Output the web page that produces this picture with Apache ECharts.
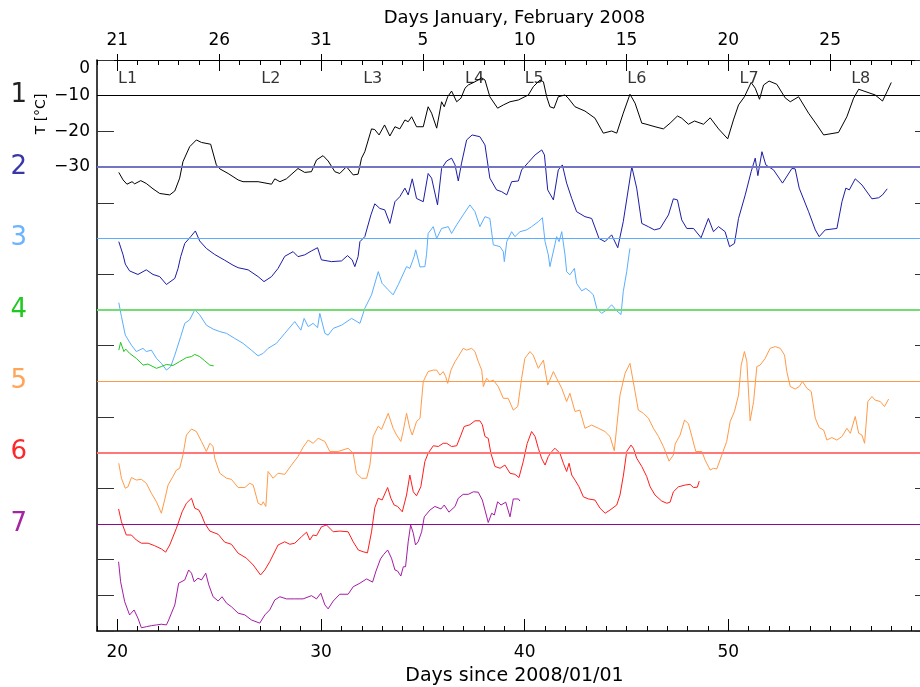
<!DOCTYPE html>
<html>
<head>
<meta charset="utf-8">
<title>Temperature traces L1-L8, January-February 2008</title>
<script src="https://cdn.jsdelivr.net/npm/echarts@6/dist/echarts.min.js"></script>
<style>
  html, body { margin: 0; padding: 0; background: #fff; }
  #chart { width: 920px; height: 687px; }
</style>
</head>
<body>
<div id="chart"></div>
<script>
// [day since 2008/01/01, plotted T] - each trace sits 20 degrees below the previous one
const trace1 = [[20.07,-31.5],[20.28,-33.6],[20.47,-34.8],[20.72,-34.1],[20.85,-34.7],[21.15,-33.8],[21.42,-34.6],[21.75,-36.1],[22.08,-37.4],[22.57,-37.8],[22.82,-36.7],[23.06,-33.1],[23.22,-28.5],[23.55,-24.3],[23.88,-22.4],[24.13,-23.1],[24.58,-23.6],[24.86,-29.4],[25.03,-30.5],[25.44,-31.8],[25.93,-33.6],[26.17,-34.1],[26.91,-34.1],[27.57,-34.8],[27.73,-33.3],[27.98,-34.1],[28.3,-33.3],[28.87,-30.4],[29.2,-31.5],[29.53,-31.3],[29.78,-28.0],[30.1,-26.8],[30.35,-28.3],[30.68,-31.3],[30.92,-31.8],[31.25,-29.9],[31.58,-32.2],[31.82,-32.0],[31.99,-27.5],[32.15,-25.7],[32.48,-19.3],[32.64,-19.5],[32.85,-21.0],[33.12,-18.2],[33.38,-21.3],[33.63,-18.7],[33.87,-19.3],[34.12,-16.8],[34.28,-17.3],[34.45,-15.9],[34.69,-18.7],[35.02,-18.7],[35.26,-13.1],[35.43,-14.9],[35.68,-19.1],[35.92,-11.7],[36.05,-13.1],[36.22,-10.3],[36.41,-8.7],[36.66,-11.7],[36.87,-10.7],[37.07,-7.9],[37.23,-7.0],[37.56,-6.1],[37.89,-5.0],[38.05,-5.6],[38.29,-10.3],[38.67,-13.5],[38.95,-12.6],[39.28,-11.7],[39.69,-11.2],[40.18,-9.8],[40.42,-7.5],[40.75,-5.6],[40.92,-6.1],[41.08,-10.3],[41.24,-13.1],[41.44,-13.5],[41.65,-10.3],[41.98,-9.8],[42.14,-10.7],[42.47,-13.1],[42.96,-14.3],[43.45,-16.3],[43.86,-20.5],[44.27,-19.9],[44.52,-20.5],[44.84,-14.9],[45.17,-9.6],[45.42,-12.1],[45.75,-17.7],[45.91,-17.9],[46.4,-18.7],[46.81,-19.3],[47.14,-17.7],[47.5,-15.7],[47.71,-16.3],[48.04,-18.0],[48.34,-17.1],[48.78,-18.0],[49.11,-16.2],[49.52,-19.3],[49.97,-22.1],[50.25,-16.8],[50.5,-12.6],[50.79,-10.3],[51.12,-6.3],[51.32,-7.9],[51.53,-11.0],[51.73,-7.0],[52.0,-5.9],[52.38,-6.8],[52.79,-10.6],[53.04,-11.7],[53.45,-10.3],[53.94,-14.9],[54.35,-18.2],[54.68,-21.0],[55.41,-20.3],[55.82,-15.9],[56.15,-10.7],[56.4,-8.2],[57.21,-9.8],[57.57,-11.5],[57.79,-8.9],[58.0,-6.3]];

const trace2 = [[20.07,-50.9],[20.28,-54.6],[20.39,-57.2],[20.6,-59.1],[21.01,-60.1],[21.42,-58.8],[21.75,-60.1],[22.08,-60.7],[22.41,-62.9],[22.82,-61.2],[22.98,-58.4],[23.11,-55.1],[23.31,-51.4],[23.6,-49.5],[23.83,-47.9],[24.04,-50.7],[24.37,-52.8],[24.78,-54.5],[25.27,-56.1],[25.68,-57.5],[25.93,-58.2],[26.42,-58.8],[26.91,-60.7],[27.2,-62.1],[27.57,-60.7],[27.89,-58.4],[28.22,-55.0],[28.63,-53.7],[28.87,-55.1],[29.2,-54.6],[29.53,-53.5],[29.83,-52.6],[30.02,-56.0],[30.52,-56.5],[31.01,-56.3],[31.3,-54.8],[31.53,-56.0],[31.66,-57.9],[31.82,-55.1],[31.91,-50.9],[32.15,-49.5],[32.45,-43.4],[32.64,-40.3],[32.89,-41.6],[33.13,-42.0],[33.38,-45.8],[33.63,-39.7],[33.87,-38.3],[34.12,-35.9],[34.28,-37.8],[34.48,-33.3],[34.69,-38.8],[35.02,-39.7],[35.26,-31.8],[35.43,-33.1],[35.72,-40.6],[35.92,-30.4],[36.17,-28.3],[36.41,-27.5],[36.58,-29.4],[36.74,-33.9],[36.9,-28.9],[37.15,-22.4],[37.42,-21.0],[37.8,-21.5],[38.05,-23.8],[38.29,-33.1],[38.62,-36.4],[38.87,-36.9],[39.12,-37.8],[39.36,-34.1],[39.69,-33.9],[39.85,-30.8],[40.18,-28.7],[40.51,-26.6],[40.84,-25.2],[40.97,-26.6],[41.13,-36.4],[41.41,-39.2],[41.65,-30.8],[41.85,-29.4],[41.93,-29.2],[42.06,-34.5],[42.31,-38.8],[42.55,-42.5],[42.96,-43.9],[43.29,-44.4],[43.65,-50.0],[43.94,-50.9],[44.27,-49.0],[44.57,-52.6],[44.84,-45.3],[45.26,-29.9],[45.5,-35.9],[45.75,-45.8],[46.07,-46.7],[46.37,-47.6],[46.65,-47.2],[47.06,-43.4],[47.3,-38.9],[47.5,-39.2],[47.71,-44.8],[47.96,-47.2],[48.29,-47.2],[48.66,-49.8],[49.02,-44.4],[49.27,-48.1],[49.52,-46.7],[49.84,-48.1],[50.06,-52.3],[50.3,-51.4],[50.5,-44.4],[50.83,-37.8],[51.12,-31.3],[51.32,-27.5],[51.45,-32.4],[51.65,-25.7],[51.84,-29.4],[52.22,-30.8],[52.66,-34.5],[53.12,-30.4],[53.28,-30.5],[53.48,-35.9],[53.94,-42.5],[54.27,-47.6],[54.46,-49.5],[54.76,-47.6],[55.33,-47.2],[55.58,-39.7],[55.77,-35.9],[55.94,-36.4],[56.23,-33.3],[56.56,-35.0],[57.05,-38.9],[57.38,-38.6],[57.57,-37.8],[57.8,-36.1]];

const trace3 = [[20.07,-68.0],[20.2,-71.9],[20.39,-77.1],[20.69,-79.9],[20.93,-81.7],[21.26,-80.8],[21.42,-81.7],[21.67,-81.3],[21.92,-83.6],[22.16,-85.0],[22.41,-86.9],[22.62,-85.9],[22.82,-82.7],[23.11,-77.5],[23.31,-73.8],[23.55,-72.8],[23.8,-70.0],[24.04,-71.4],[24.37,-74.3],[24.7,-75.4],[25.03,-76.1],[25.36,-76.6],[25.76,-78.0],[26.17,-79.4],[26.58,-81.3],[26.91,-82.9],[27.16,-82.2],[27.4,-80.8],[27.81,-79.4],[28.22,-76.6],[28.71,-73.3],[29.01,-75.7],[29.17,-72.4],[29.37,-74.7],[29.61,-73.8],[29.83,-75.0],[29.94,-71.0],[30.19,-76.6],[30.35,-77.1],[30.6,-75.2],[31.01,-74.3],[31.5,-72.4],[31.91,-73.8],[32.15,-69.6],[32.48,-65.8],[32.81,-59.3],[33.0,-62.6],[33.3,-64.4],[33.54,-65.8],[33.79,-63.0],[34.2,-57.9],[34.36,-58.4],[34.57,-55.1],[34.65,-53.2],[34.86,-58.0],[35.1,-57.9],[35.18,-54.6],[35.26,-48.6],[35.51,-46.7],[35.68,-50.0],[35.92,-47.2],[36.25,-46.7],[36.41,-48.6],[36.66,-46.2],[36.98,-43.4],[37.31,-40.6],[37.56,-42.5],[37.8,-46.7],[38.05,-43.9],[38.29,-44.4],[38.46,-51.8],[38.79,-52.3],[38.95,-53.7],[39.0,-56.5],[39.12,-50.9],[39.36,-48.1],[39.52,-49.5],[39.77,-48.1],[40.1,-47.6],[40.34,-46.7],[40.67,-45.3],[40.87,-44.2],[41.0,-50.9],[41.16,-54.6],[41.24,-57.9],[41.57,-49.5],[41.69,-50.9],[41.82,-48.1],[41.98,-54.6],[42.06,-59.3],[42.22,-60.2],[42.44,-58.4],[42.55,-62.6],[42.8,-64.7],[43.0,-64.0],[43.21,-64.9],[43.37,-65.8],[43.54,-69.6],[43.78,-71.0],[44.03,-70.0],[44.27,-68.6],[44.52,-70.3],[44.73,-71.3],[44.84,-64.9],[45.01,-59.3],[45.12,-54.6],[45.17,-52.8]];

const trace4 = [[20.07,-81.3],[20.16,-79.1],[20.25,-79.4],[20.32,-81.7],[20.41,-81.0],[20.6,-82.2],[20.93,-83.6],[21.26,-85.5],[21.5,-85.2],[21.92,-86.4],[22.16,-85.9],[22.41,-85.3],[22.73,-85.6],[23.06,-84.5],[23.39,-83.4],[23.64,-83.1],[23.8,-82.5],[24.04,-83.1],[24.29,-84.3],[24.54,-85.5],[24.73,-85.7]];

const trace5 = [[20.07,-113.0],[20.2,-117.2],[20.39,-120.0],[20.52,-119.6],[20.69,-117.0],[20.93,-117.7],[21.18,-117.5],[21.42,-118.6],[21.67,-121.4],[21.92,-123.8],[22.16,-127.0],[22.32,-123.3],[22.49,-119.1],[22.73,-116.7],[22.9,-114.9],[23.06,-114.4],[23.22,-110.7],[23.39,-105.1],[23.64,-103.4],[23.88,-104.1],[24.13,-106.9],[24.37,-109.7],[24.54,-107.4],[24.7,-108.3],[24.78,-111.6],[25.03,-115.8],[25.36,-117.2],[25.6,-117.5],[25.93,-119.8],[26.26,-119.8],[26.5,-118.6],[26.67,-119.1],[26.91,-124.2],[27.08,-124.7],[27.16,-123.8],[27.29,-125.1],[27.4,-115.3],[27.65,-117.2],[27.89,-115.8],[28.22,-116.1],[28.55,-113.5],[28.87,-111.1],[29.12,-108.5],[29.37,-106.5],[29.61,-107.4],[29.86,-106.0],[30.19,-106.9],[30.43,-109.7],[30.84,-109.7],[31.33,-108.8],[31.58,-110.2],[31.74,-115.8],[31.99,-117.2],[32.24,-117.2],[32.4,-113.5],[32.56,-105.5],[32.81,-102.6],[32.97,-103.5],[33.3,-99.0],[33.54,-103.2],[33.71,-105.1],[33.92,-106.9],[34.03,-104.1],[34.2,-99.0],[34.36,-103.2],[34.48,-105.1],[34.69,-101.3],[34.86,-100.4],[35.02,-90.1],[35.26,-87.3],[35.51,-86.9],[35.68,-86.9],[35.84,-88.3],[36.0,-87.3],[36.12,-88.7],[36.22,-90.6],[36.38,-86.9],[36.58,-84.5],[36.74,-83.1],[36.98,-80.8],[37.15,-81.3],[37.39,-80.8],[37.56,-81.7],[37.72,-84.5],[37.89,-86.9],[37.97,-91.5],[38.13,-89.2],[38.29,-90.1],[38.46,-89.7],[38.7,-91.5],[38.95,-94.8],[39.19,-94.8],[39.44,-98.1],[39.66,-97.1],[39.85,-89.2],[40.01,-83.6],[40.26,-81.7],[40.42,-82.7],[40.67,-86.4],[40.92,-84.1],[41.13,-91.1],[41.41,-87.3],[41.57,-89.2],[41.82,-92.0],[42.06,-95.7],[42.22,-93.4],[42.47,-98.5],[42.71,-98.1],[42.96,-103.2],[43.29,-102.3],[43.62,-103.2],[43.94,-104.1],[44.19,-105.5],[44.4,-109.5],[44.68,-93.9],[44.93,-87.8],[45.17,-85.0],[45.33,-90.1],[45.58,-98.1],[45.83,-99.0],[46.08,-100.4],[46.32,-103.2],[46.57,-105.5],[46.81,-108.3],[47.09,-112.4],[47.3,-110.7],[47.39,-107.6],[47.63,-105.1],[47.85,-100.9],[48.04,-101.9],[48.21,-105.5],[48.4,-109.7],[48.7,-109.7],[48.86,-112.1],[49.11,-114.9],[49.27,-114.4],[49.43,-114.6],[49.68,-110.7],[49.92,-106.9],[50.09,-101.3],[50.3,-98.5],[50.5,-93.9],[50.63,-85.5],[50.79,-81.7],[50.91,-84.5],[51.07,-101.1],[51.24,-95.7],[51.4,-85.9],[51.56,-85.5],[51.81,-83.6],[52.05,-80.8],[52.3,-80.3],[52.55,-80.8],[52.76,-82.7],[52.87,-87.3],[53.04,-91.5],[53.28,-92.2],[53.48,-91.5],[53.64,-90.1],[53.86,-92.0],[54.07,-92.9],[54.27,-100.4],[54.46,-103.0],[54.68,-103.7],[54.84,-106.5],[55.08,-105.8],[55.33,-106.5],[55.58,-105.5],[55.82,-103.2],[55.99,-104.6],[56.23,-99.9],[56.4,-104.6],[56.56,-105.1],[56.69,-107.4],[56.85,-95.7],[57.05,-94.3],[57.21,-95.3],[57.46,-95.7],[57.67,-97.1],[57.87,-95.0]];

const trace6 = [[20.06,-125.8],[20.2,-129.4],[20.44,-133.1],[20.69,-133.1],[20.93,-134.5],[21.18,-135.4],[21.51,-135.4],[21.83,-136.1],[22.16,-137.0],[22.37,-137.9],[22.57,-135.9],[22.9,-131.2],[23.18,-126.6],[23.39,-124.2],[23.64,-122.8],[23.8,-125.6],[24.0,-126.1],[24.13,-127.5],[24.29,-129.8],[24.54,-132.0],[24.95,-132.9],[25.27,-135.1],[25.6,-135.7],[25.93,-138.2],[26.34,-139.6],[26.67,-141.5],[27.03,-144.3],[27.24,-142.9],[27.48,-140.6],[27.89,-135.9],[28.22,-135.0],[28.47,-135.7],[28.71,-135.4],[29.04,-133.6],[29.29,-132.3],[29.45,-134.5],[29.61,-133.1],[29.78,-133.3],[30.02,-130.8],[30.27,-130.3],[30.6,-132.2],[30.92,-132.0],[31.33,-132.2],[31.58,-135.0],[31.83,-137.3],[32.07,-137.8],[32.28,-138.1],[32.48,-132.2],[32.64,-125.5],[32.81,-122.8],[33.0,-123.3],[33.27,-119.8],[33.43,-122.8],[33.59,-124.7],[33.76,-125.1],[33.99,-126.6],[34.2,-121.9],[34.36,-116.3],[34.53,-121.0],[34.69,-122.1],[34.9,-119.6],[35.1,-112.5],[35.26,-110.2],[35.51,-108.1],[35.76,-108.3],[36.0,-107.4],[36.17,-107.4],[36.41,-108.3],[36.66,-108.1],[36.87,-105.1],[37.03,-102.7],[37.31,-102.2],[37.56,-101.1],[37.8,-101.1],[37.92,-102.2],[38.05,-105.5],[38.21,-106.0],[38.34,-110.2],[38.54,-113.9],[38.79,-114.4],[39.03,-113.5],[39.28,-115.8],[39.52,-116.1],[39.72,-117.0],[39.93,-112.5],[40.12,-107.5],[40.34,-104.1],[40.51,-105.5],[40.67,-108.8],[40.83,-111.6],[41.0,-113.5],[41.16,-111.1],[41.33,-109.7],[41.49,-108.8],[41.73,-110.2],[41.9,-113.0],[42.06,-115.3],[42.18,-113.0],[42.31,-116.3],[42.47,-117.7],[42.67,-119.6],[42.88,-122.4],[43.13,-123.0],[43.45,-123.3],[43.7,-125.6],[43.95,-127.0],[44.19,-126.1],[44.52,-124.7],[44.68,-121.9],[44.85,-116.3],[45.01,-109.7],[45.22,-107.9],[45.34,-108.8],[45.5,-111.6],[45.75,-113.9],[45.99,-116.7],[46.16,-119.6],[46.4,-121.9],[46.73,-123.6],[46.98,-124.2],[47.14,-123.9],[47.3,-121.0],[47.55,-119.6],[47.88,-119.1],[48.12,-118.9],[48.29,-119.8],[48.48,-119.7],[48.57,-118.0]];

const trace7 = [[20.06,-140.6],[20.16,-146.2],[20.36,-151.8],[20.6,-155.5],[20.82,-154.1],[21.01,-156.4],[21.18,-159.1],[21.42,-158.8],[21.67,-158.5],[21.92,-158.3],[22.16,-158.1],[22.41,-158.3],[22.52,-156.9],[22.82,-152.7],[23.01,-146.6],[23.31,-145.7],[23.5,-142.9],[23.64,-143.8],[23.77,-146.2],[23.96,-145.2],[24.13,-145.7],[24.34,-143.8],[24.49,-147.1],[24.7,-150.4],[24.95,-151.6],[25.14,-150.4],[25.36,-152.2],[25.6,-153.2],[25.93,-155.0],[26.26,-155.5],[26.58,-156.9],[26.99,-157.8],[27.24,-155.5],[27.48,-154.1],[27.73,-151.3],[27.98,-150.4],[28.3,-151.0],[28.71,-151.0],[29.12,-151.0],[29.53,-150.1],[29.78,-151.0],[29.99,-149.4],[30.19,-152.7],[30.35,-153.8],[30.6,-151.6],[30.92,-149.7],[31.33,-149.7],[31.58,-147.6],[31.91,-146.6],[32.24,-145.4],[32.53,-146.3],[32.7,-143.2],[32.92,-139.8],[33.07,-138.6],[33.27,-137.3],[33.46,-139.6],[33.63,-142.9],[33.76,-143.2],[33.92,-144.6],[34.04,-142.0],[34.15,-142.0],[34.28,-135.0],[34.4,-130.3],[34.53,-132.6],[34.64,-135.9],[34.77,-135.0],[34.94,-132.2],[35.07,-128.0],[35.35,-126.1],[35.59,-125.1],[35.89,-125.8],[36.05,-124.7],[36.28,-126.7],[36.58,-125.1],[36.74,-122.8],[36.98,-121.7],[37.23,-121.7],[37.48,-121.0],[37.72,-121.1],[37.92,-123.3],[38.05,-126.1],[38.21,-129.6],[38.38,-127.0],[38.51,-127.5],[38.67,-123.8],[38.84,-124.7],[39.07,-123.9],[39.28,-128.0],[39.44,-123.0],[39.69,-123.0],[39.77,-123.6]];

const traceNames = ['1', '2', '3', '4', '5', '6', '7'];
const refLevels = [-10, -30, -50, -70, -90, -110, -130];
const loggerNames = ['L1', 'L2', 'L3', 'L4', 'L5', 'L6', 'L7', 'L8'];
const loggerDays = [20.03, 27.07, 32.07, 37.07, 40.0, 45.04, 50.55, 56.03];
const bottomTickDays = [20, 30, 40, 50];
const topTickDays = [20, 25, 30, 35, 40, 45, 50, 55];
const topTickLabels = ['21', '26', '31', '5', '10', '15', '20', '25'];
const yLabelValues = [0, -10, -20, -30];

const traceColors = ['#000000', '#1c1ca8', '#5aaeff', '#1ec81e', '#ff9a48', '#ff1c1c', '#a41ca4'];
const refColors = ['#000000', '#7474c4', '#5aaeff', '#74dc74', '#ff9a48', '#ff7878', '#8c0a8c'];
const refWidths = [1, 2, 1, 2, 1, 2, 1];
const numberColors = ['#222222', '#3838a8', '#6cb4ff', '#22c822', '#ffa458', '#ff2828', '#a424a4'];

const chart = echarts.init(document.getElementById('chart'));

const traces = [trace1, trace2, trace3, trace4, trace5, trace6, trace7];

const numberRich = {};
numberColors.forEach((c, i) => {
  numberRich['s' + i] = { color: c, fontSize: 26, fontFamily: 'DejaVu Sans' };
});

const series = traces.map((data, i) => ({
  type: 'line',
  data: data,
  showSymbol: false,
  symbol: 'none',
  silent: true,
  z: 3,
  lineStyle: { color: traceColors[i], width: 1 },
  itemStyle: { color: traceColors[i] },
  markLine: {
    silent: true,
    symbol: 'none',
    label: { show: false },
    lineStyle: { color: refColors[i], width: refWidths[i], type: 'solid' },
    data: [{ yAxis: refLevels[i] }]
  }
}));

series.push({
  type: 'scatter',
  symbolSize: 0,
  silent: true,
  data: loggerDays.map((d, i) => ({ name: loggerNames[i], value: [d, -5.2] })),
  label: {
    show: true,
    position: 'right',
    distance: 0,
    formatter: p => p.name,
    fontSize: 16,
    color: '#000'
  }
});

const axisBlack = { color: '#000' };

const option = {
  animation: false,
  backgroundColor: '#fff',
  textStyle: { fontFamily: 'DejaVu Sans' },
  grid: { left: 97, top: 60, right: -12, bottom: 56, containLabel: false, outerBoundsMode: 'none' },
  xAxis: [
    {
      type: 'value', position: 'bottom', min: 19, max: 60,
      name: 'Days since 2008/01/01', nameLocation: 'middle', nameGap: 36,
      nameTextStyle: { fontSize: 19, color: '#000' },
      axisLine: { onZero: false, lineStyle: { color: '#000', width: 1.5 } },
      axisTick: { inside: true, length: 12, customValues: bottomTickDays, lineStyle: axisBlack },
      axisLabel: { customValues: bottomTickDays, fontSize: 17, color: '#000', margin: 13 },
      splitLine: { show: false }
    },
    {
      type: 'value', position: 'bottom', min: 19, max: 60, interval: 1,
      axisLine: { show: false, onZero: false },
      axisTick: { inside: true, length: 5, lineStyle: axisBlack },
      axisLabel: { show: false },
      splitLine: { show: false }
    },
    {
      type: 'value', position: 'top', min: 19, max: 60,
      name: 'Days January, February 2008', nameLocation: 'middle', nameGap: 29,
      nameTextStyle: { fontSize: 18, color: '#000' },
      axisLine: { onZero: false, lineStyle: { color: '#000', width: 1 } },
      axisTick: { inside: true, length: 11, customValues: topTickDays, lineStyle: axisBlack },
      axisLabel: {
        customValues: topTickDays, fontSize: 17, color: '#000', margin: 11,
        formatter: v => topTickLabels[topTickDays.indexOf(Math.round(v))] || ''
      },
      splitLine: { show: false }
    },
    {
      type: 'value', position: 'top', min: 19, max: 60, interval: 1,
      axisLine: { show: false, onZero: false },
      axisTick: { inside: true, length: 5, lineStyle: axisBlack },
      axisLabel: { show: false },
      splitLine: { show: false }
    },
    {
      // major ticks of the date axis also poke a little above the frame
      type: 'value', position: 'top', min: 19, max: 60,
      axisLine: { show: false, onZero: false },
      axisTick: { inside: false, length: 6, customValues: topTickDays, lineStyle: axisBlack },
      axisLabel: { show: false },
      splitLine: { show: false }
    }
  ],
  yAxis: [
    {
      type: 'value', position: 'left', min: -160, max: 0, interval: 10,
      axisLine: { show: true, onZero: false, lineStyle: { color: '#000', width: 1.5 } },
      axisTick: { show: true, inside: true, length: 17, lineStyle: { color: '#333' } },
      axisLabel: {
        fontSize: 17, color: '#000', margin: 7,
        formatter: v => {
          const r = Math.round(v);
          if (!yLabelValues.includes(r)) return '';
          if (r === 0) return '{top|0}';
          return '\u2212' + Math.abs(r);
        },
        rich: { top: { fontSize: 17, color: '#000', padding: [18, 0, 0, 0] } }
      },
      splitLine: { show: false }
    },
    {
      type: 'value', position: 'left', offset: 62, min: -160, max: 0, interval: 10,
      axisLine: { show: false, onZero: false },
      axisTick: { show: false },
      axisLabel: {
        margin: 8,
        formatter: v => {
          const i = refLevels.indexOf(Math.round(v));
          return i < 0 ? '' : '{s' + i + '|' + traceNames[i] + '}';
        },
        rich: numberRich
      },
      splitLine: { show: false }
    },
    {
      type: 'value', position: 'right', min: -160, max: 0, interval: 10,
      axisLine: { show: true, onZero: false, lineStyle: { color: '#000' } },
      axisTick: { show: true, inside: true, length: 17, lineStyle: { color: '#333' } },
      axisLabel: { show: false },
      splitLine: { show: false }
    }
  ],
  graphic: [
    {
      type: 'text',
      x: 41, y: 114,
      rotation: Math.PI / 2,
      style: { text: 'T [\u00b0C]', fontSize: 14, fontFamily: 'DejaVu Sans', fill: '#000', align: 'center', verticalAlign: 'middle' }
    }
  ],
  series: series
};

chart.setOption(option);
</script>
</body>
</html>
